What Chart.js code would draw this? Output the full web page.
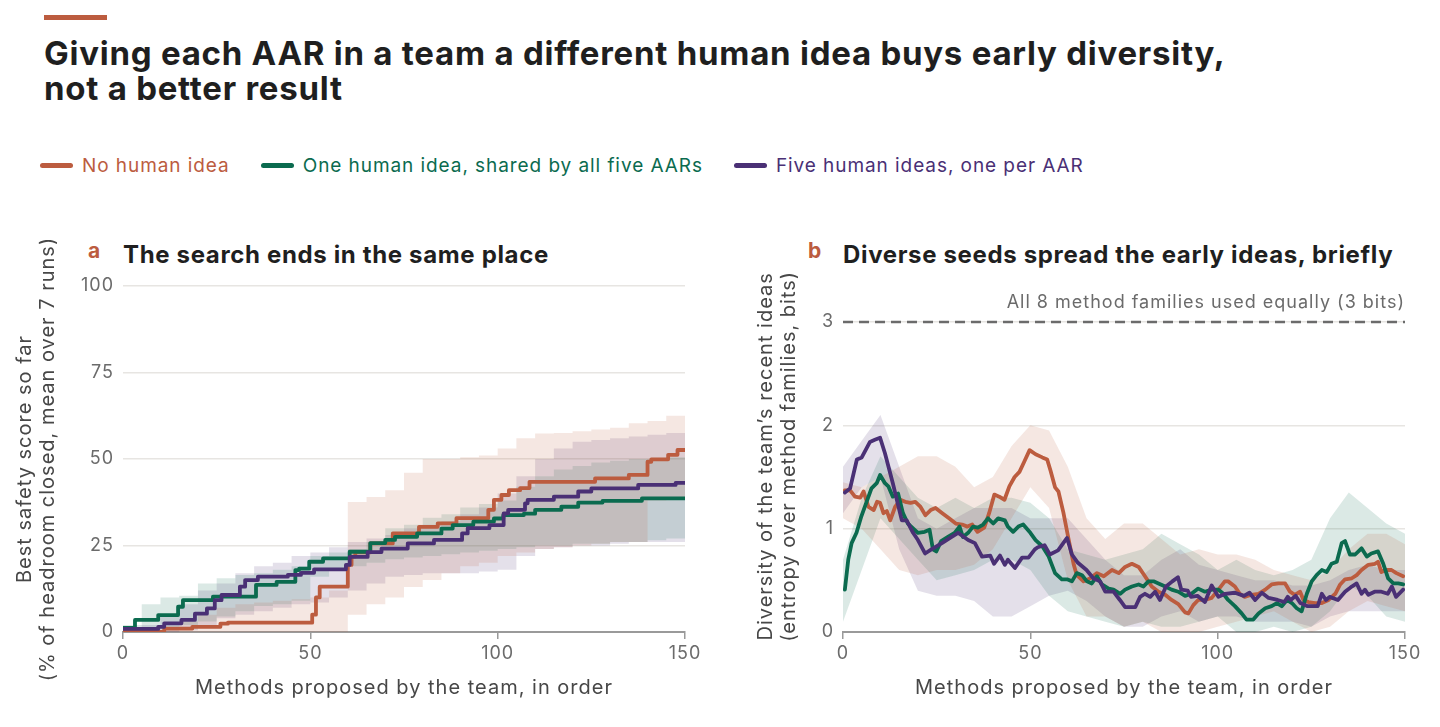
<!DOCTYPE html>
<html>
<head>
<meta charset="utf-8">
<script src="https://cdn.jsdelivr.net/npm/chart.js@4.4.1/dist/chart.umd.min.js"></script>
<style>
  html,body{margin:0;padding:0;background:#fff;}
  body{width:1440px;height:727px;position:relative;overflow:hidden;font-family:Inter,"Noto Sans",sans-serif;}
  .topbar{position:absolute;left:44px;top:15px;width:63px;height:5px;background:#bc5c3f;}
  h1{position:absolute;left:44px;top:36px;margin:0;font-size:33px;line-height:35px;font-weight:700;color:#1f1f1f;letter-spacing:0.75px;white-space:nowrap;}
  .legend{position:absolute;top:153px;left:40px;height:24px;display:flex;align-items:center;font-size:19px;letter-spacing:0.93px;}
  .item{display:flex;align-items:center;margin-right:31px;}
  .sw{width:33px;height:5px;border-radius:3px;margin-right:9px;}
  .ptitle{position:absolute;top:240px;font-size:24px;font-weight:700;color:#1f1f1f;line-height:30px;letter-spacing:0.65px;white-space:nowrap;}
  .plet{position:absolute;top:236px;font-size:21px;font-weight:700;color:#bc5c3f;line-height:30px;}
  canvas{position:absolute;top:240px;}
</style>
</head>
<body>
<div class="topbar"></div>
<h1>Giving each AAR in a team a different human idea buys early diversity,<br>not a better result</h1>
<div class="legend" id="legend"></div>
<div class="plet" style="left:88px">a</div>
<div class="ptitle" style="left:123px">The search ends in the same place</div>
<div class="plet" style="left:808px">b</div>
<div class="ptitle" style="left:843px">Diverse seeds spread the early ideas, briefly</div>
<canvas id="left" width="720" height="480" style="left:0px"></canvas>
<canvas id="right" width="720" height="480" style="left:720px"></canvas>
<script>
// ---------- series names & colours ----------
const seriesNames = ['No human idea', 'One human idea, shared by all five AARs', 'Five human ideas, one per AAR'];
const seriesColors = ['#bc5c3f', '#0b6b4f', '#4a3075'];
const bandColors = ['rgba(188,92,63,0.15)', 'rgba(11,107,79,0.15)', 'rgba(74,48,117,0.15)'];

// ---------- panel a: best safety score so far (step changes) ----------
const aNoX = [0, 11, 18.5, 26, 28, 50.5, 51.5, 52.5, 60, 61, 62, 66, 72, 79, 84, 89, 97.5, 99, 101, 103, 106, 108.5, 126, 135, 140, 141, 145.5, 148, 150];
const aNoY = [0, 1.0, 1.5, 2.4, 2.7, 5, 10, 13.1, 19.4, 21.8, 23, 25.6, 28.5, 30.4, 31.4, 32.9, 35.3, 38.2, 39.6, 41, 41.6, 43.4, 44.4, 45.4, 49.2, 49.9, 51.2, 52.6, 52.6];
const aOneX = [0, 3.2, 9.4, 14.7, 16, 24, 35.5, 41, 46, 47, 49.7, 53.4, 60.5, 66, 70, 72.6, 78.5, 85, 88, 93.5, 99, 101.5, 107, 110, 117, 121.5, 128, 138.5, 150];
const aOneY = [1.2, 3.5, 4.9, 7.3, 9.2, 10.2, 13.6, 14.5, 17.9, 18.3, 20.3, 21.3, 23.2, 25.7, 26.6, 27.5, 28.5, 29.9, 30.9, 31.9, 32.8, 33.8, 34.2, 35.3, 36.2, 37.4, 37.9, 38.6, 38.6];
const aFiveX = [0, 9.4, 11, 15.6, 19.2, 22.4, 24.5, 26.3, 31.2, 32.6, 36, 44, 47.5, 51, 59.5, 60.5, 65.3, 69, 76, 83, 90.5, 92, 97.8, 101.6, 102.8, 107.3, 108, 115, 121.5, 125, 137.5, 147.5, 150];
const aFiveY = [0.9, 1.5, 2.5, 3.5, 5.3, 6.8, 9.2, 10.7, 13.1, 15, 16, 16.5, 17.1, 18.1, 19.4, 21.7, 23.1, 24.1, 25.6, 26.6, 28.5, 30, 30.9, 34.3, 35.3, 37.2, 38.2, 39.1, 40.6, 41.5, 42.5, 43.1, 43.1];

const aBandX = [0, 5, 10, 15, 20, 25, 30, 35, 40, 45, 50, 55, 60, 65, 70, 75, 80, 85, 90, 95, 100, 105, 110, 115, 120, 125, 130, 135, 140, 145, 150];
const aNoHi = [0, 0.3, 1, 3, 5, 7, 8, 8.5, 9, 9.5, 10, 12, 37.6, 39, 41, 46, 50, 50, 50.5, 51, 53, 56, 57.4, 57.5, 58, 58.5, 59, 60.3, 61, 62.5, 63.4];
const aNoLo = [0, 0, 0, 0, 0, 0, 0, 0, 0, 0, 0, 0, 5, 8, 10, 13, 15, 17, 19, 20, 22, 23, 24, 24.5, 25, 25.5, 26, 26, 38, 38.5, 39];
const aOneHi = [2, 8, 10, 10.5, 14, 15.5, 16.5, 17, 18, 19, 22, 23, 24, 26, 30, 31, 33, 34, 36, 37, 38, 42, 45, 47, 48, 49, 49.5, 50, 50, 50.5, 51];
const aOneLo = [0, 0.5, 1, 2, 3, 4.5, 6, 7.5, 8, 9, 16, 18, 19, 20, 21, 21.5, 22, 22.5, 23, 23.5, 24, 24.5, 25, 25, 25.5, 25.5, 26, 26, 26.5, 27, 27];
const aFiveHi = [1, 2, 5, 8, 12, 14, 17, 19, 20, 22, 23, 24.5, 26, 27, 28, 30, 31, 32, 34, 36, 40, 45, 50, 53, 55, 55.5, 56, 56.5, 57, 57.5, 58];
const aFiveLo = [0, 0, 0, 0.5, 2, 4, 5, 6, 7, 8, 8.5, 10, 12, 14, 16, 16.5, 17, 17, 17, 17.5, 18, 22, 24, 24.5, 25, 25, 25.5, 26, 26, 26, 26];

// ---------- panel b: diversity of recent ideas (bits) ----------
const bNoX = [0.5,1.9,3.2,4.6,5.5,6.8,8.2,9.1,9.9,10.8,11.7,12.6,13.9,15.3,16.6,18,19.3,20.7,22,23.4,24.7,26.5,28.3,30.1,31.8,33.2,34.5,35.9,37.7,39,40.4,41.7,43.1,44.4,45.8,47.1,48.4,49.8,51.4,53.2,54.5,55.4,56.6,57.5,58.8,60.2,61.6,62.4,64.2,66,67.8,69.6,71.8,73.6,75.3,77.1,78.9,80.6,82.4,84.2,86,87.7,89.5,91.3,92.2,93.5,94.8,96.6,98.4,100.2,101.9,102.8,104.6,105.9,107.2,109,110.9,112.7,114.4,116.2,118,119.3,120.6,122,122.9,124.2,126,127.8,129.6,131.4,132.7,134,135.8,137.1,138.4,140.2,142,142.8,143.7,145,146.4,147.7,149.5];
const bNoY = [1.37,1.37,1.31,1.30,1.36,1.21,1.18,1.26,1.25,1.15,1.17,1.08,1.21,1.28,1.26,1.25,1.26,1.21,1.13,1.18,1.20,1.15,1.10,1.05,1.04,1.02,1.04,0.97,1.01,1.15,1.33,1.31,1.28,1.41,1.50,1.55,1.65,1.76,1.72,1.69,1.67,1.56,1.40,1.36,1.16,0.90,0.65,0.55,0.49,0.52,0.57,0.54,0.60,0.57,0.63,0.66,0.63,0.54,0.44,0.39,0.36,0.31,0.27,0.19,0.18,0.26,0.31,0.31,0.33,0.41,0.49,0.49,0.44,0.37,0.34,0.36,0.37,0.41,0.46,0.47,0.47,0.39,0.36,0.39,0.31,0.29,0.28,0.28,0.31,0.37,0.46,0.51,0.52,0.55,0.60,0.65,0.66,0.68,0.58,0.60,0.60,0.57,0.54];
const bOneX = [0.5,1.4,2.3,3.6,4.9,6.2,7.6,9,9.9,11.2,12.1,13.3,14.7,16,17.3,18.2,20,21.8,23.1,24,24.9,26.2,28,29.8,31.1,32,33.4,34.7,36,37.4,38.7,40.1,41.4,43.2,44,45.4,46.8,48.1,50,51.4,53.2,54.9,56.6,58.4,59.8,61.1,62.4,63.8,65.1,66.4,67.8,69.1,70.9,72.2,74,75.3,77.1,78.9,80.2,81.5,82.9,84.2,86,87.7,89.5,91.3,93,94.8,96.6,98.4,100.2,101.5,102.8,104.6,106.4,107.7,109.5,110.9,112.7,114.4,115.8,117.1,118.5,119.8,121.1,122.4,123.8,125.1,126.4,127.8,129.1,130.4,131.8,133.1,134,135.3,136.7,138.4,139.8,141,142.8,144.2,145.5,146.9,148.2,149.5];
const bOneY = [0.41,0.70,0.86,0.96,1.12,1.25,1.39,1.44,1.52,1.44,1.41,1.31,1.34,1.15,1.05,1.02,0.96,0.97,0.99,0.80,0.78,0.88,0.92,0.96,1.02,0.92,0.96,1.02,1.01,1.04,1.10,1.05,1.10,1.08,1.02,0.97,1.02,1.04,0.96,0.89,0.83,0.73,0.57,0.51,0.51,0.49,0.57,0.55,0.49,0.47,0.54,0.46,0.42,0.41,0.37,0.41,0.44,0.46,0.44,0.49,0.49,0.47,0.44,0.41,0.39,0.35,0.37,0.42,0.39,0.41,0.41,0.37,0.31,0.25,0.18,0.12,0.12,0.18,0.23,0.25,0.28,0.25,0.31,0.28,0.23,0.20,0.37,0.49,0.55,0.60,0.58,0.66,0.68,0.86,0.88,0.75,0.75,0.81,0.73,0.76,0.78,0.66,0.52,0.47,0.47,0.46];
const bFiveX = [0.5,1.9,3.7,5,7.2,8.5,9.9,11.2,13.3,15.7,17,18.7,20,21.9,23.6,26.4,29,30.7,33.4,35.2,37.1,39.3,40.3,41.9,43.2,44,45.9,47.8,49.5,51.2,52,53.8,55.2,57.4,59.8,61.1,62.7,65,66.8,68.6,70,72.2,73.9,75.3,78,79.3,80.6,82,83.3,84.6,86.2,87.9,89.4,90.3,92,92.9,94.6,96.6,98.4,100.2,102,104.6,107,108.5,110,111.8,113.6,116,117.8,118.7,119.5,120.8,122.1,124,126.7,127.8,128.9,129.9,132.1,134,135.8,137.1,138.4,139.3,140.2,141.9,143.7,145.4,146.5,147.6,149.5];
const bFiveY = [1.35,1.39,1.67,1.69,1.84,1.86,1.88,1.73,1.44,1.08,1.08,0.96,0.89,0.76,0.80,0.86,0.92,0.96,0.89,0.86,0.73,0.74,0.66,0.74,0.65,0.70,0.62,0.72,0.72,0.80,0.82,0.84,0.75,0.79,0.91,0.75,0.67,0.60,0.52,0.49,0.39,0.39,0.31,0.24,0.24,0.34,0.37,0.34,0.39,0.31,0.44,0.49,0.53,0.41,0.40,0.34,0.35,0.29,0.45,0.34,0.37,0.38,0.35,0.38,0.31,0.38,0.33,0.31,0.29,0.34,0.31,0.35,0.28,0.25,0.25,0.37,0.31,0.34,0.31,0.39,0.44,0.47,0.37,0.41,0.36,0.39,0.39,0.37,0.44,0.34,0.41];

const bBandX = [0, 5, 10, 15, 20, 25, 30, 35, 40, 45, 50, 55, 60, 65, 70, 75, 80, 85, 90, 95, 100, 105, 110, 115, 120, 125, 130, 135, 140, 145, 150];
const bNoHi = [1.45,1.4,1.5,1.6,1.7,1.7,1.6,1.4,1.5,1.8,2.0,1.95,1.6,1.1,0.9,1.05,1.05,0.9,0.75,0.8,0.75,0.75,0.7,0.6,0.55,0.5,0.6,0.8,0.95,0.95,0.85];
const bNoLo = [1.1,1.0,0.8,0.6,0.55,0.6,0.6,0.65,0.8,1.1,1.4,1.2,0.5,0.15,0.15,0.05,0.1,0.0,0.0,0.0,0.05,0.1,0.15,0.2,0.1,0.0,0.05,0.2,0.3,0.25,0.2];
const bOneHi = [0.7,1.3,1.7,1.5,1.3,1.2,1.3,1.2,1.3,1.3,1.25,1.1,0.8,0.75,0.7,0.75,0.8,0.95,0.85,0.75,0.6,0.7,0.6,0.55,0.6,0.7,1.1,1.35,1.2,1.05,0.95];
const bOneLo = [0.1,0.6,1.1,0.9,0.7,0.5,0.55,0.6,0.7,0.7,0.6,0.35,0.2,0.15,0.1,0.05,0.1,0.05,0.05,0.1,0.15,0.0,0.0,0.05,0.0,0.05,0.2,0.45,0.35,0.15,0.1];
const bFiveHi = [1.6,1.85,2.1,1.6,1.1,1.0,1.1,1.2,1.2,1.2,1.1,1.1,1.1,0.9,0.7,0.55,0.55,0.7,0.8,0.65,0.6,0.55,0.5,0.5,0.45,0.45,0.5,0.6,0.65,0.6,0.6];
const bFiveLo = [1.15,1.4,1.5,0.8,0.4,0.35,0.35,0.3,0.15,0.15,0.25,0.35,0.4,0.3,0.15,0.05,0.05,0.15,0.2,0.1,0.15,0.15,0.1,0.1,0.1,0.05,0.15,0.2,0.2,0.2,0.2];

const refLineValue = 3;
const refLineLabel = 'All 8 method families used equally (3 bits)';

const aTicksX = [0, 50, 100, 150];
const aTicksY = [0, 25, 50, 75, 100];
const bTicksY = [0, 1, 2, 3];

const aYTitle = ['Best safety score so far', '(% of headroom closed, mean over 7 runs)'];
const bYTitle = ['Diversity of the team\u2019s recent ideas', '(entropy over method families, bits)'];
const xTitle = 'Methods proposed by the team, in order';

// ---------- legend ----------
const leg = document.getElementById('legend');
seriesNames.forEach((n, i) => {
  const it = document.createElement('div'); it.className = 'item';
  const sw = document.createElement('div'); sw.className = 'sw'; sw.style.background = seriesColors[i];
  const tx = document.createElement('span'); tx.textContent = n; tx.style.color = seriesColors[i];
  it.appendChild(sw); it.appendChild(tx); leg.appendChild(it);
});

// ---------- helpers ----------
const FONT = 'Inter, "Noto Sans", sans-serif';
const pts = (xs, ys) => xs.map((x, i) => ({x: x, y: ys[i]}));
function lineDs(xs, ys, i, stepped) {
  return {data: pts(xs, ys), borderColor: seriesColors[i], borderWidth: 3.8, pointRadius: 0,
          stepped: stepped, tension: 0, fill: false, borderJoinStyle: 'round', borderCapStyle: 'round'};
}
function bandDs(xs, hi, lo, i, stepped) {
  return [
    {data: pts(xs, hi), borderWidth: 0, borderColor: 'rgba(0,0,0,0)', pointRadius: 0, stepped: stepped,
     backgroundColor: bandColors[i], fill: '+1', tension: 0},
    {data: pts(xs, lo), borderWidth: 0, borderColor: 'rgba(0,0,0,0)', pointRadius: 0, stepped: stepped,
     fill: false, tension: 0}
  ];
}
function scalesFor(yMin, yMax, yTicks, yTitle, yTitlePad) {
  return {
    x: {
      type: 'linear', min: 0, max: 150,
      afterBuildTicks: s => { s.ticks = aTicksX.map(v => ({value: v})); },
      afterFit: s => { s.height = 88; },
      grid: {drawOnChartArea: false, drawTicks: true, tickLength: 7, color: '#9a9a9a', lineWidth: 1.5},
      border: {display: true, color: '#9a9a9a', width: 2},
      ticks: {color: '#6b6b6b', font: {family: FONT, size: 18}, padding: 4, maxRotation: 0},
      title: {display: true, text: xTitle, color: '#474747', font: {family: FONT, size: 20, lineHeight: 1.2}, padding: {top: 0, bottom: 20}}
    },
    y: {
      type: 'linear', min: yMin, max: yMax,
      afterBuildTicks: s => { s.ticks = yTicks.map(v => ({value: v})); },
      afterFit: s => { s.width = 123; },
      grid: {drawTicks: false, color: '#e7e5e2', lineWidth: 1.5},
      border: {display: false},
      ticks: {color: '#6b6b6b', font: {family: FONT, size: 18}, padding: 9},
      title: {display: true, text: yTitle, color: '#474747', font: {family: FONT, size: 20, lineHeight: 1.18}, padding: {top: yTitlePad, bottom: 0}}
    }
  };
}
// wider tracking, matching the reference typeface
const trackingPlugin = {id: 'tracking', beforeDraw(chart) { chart.ctx.letterSpacing = '1px'; }};

// ---------- panel a ----------
new Chart(document.getElementById('left'), {
  type: 'line',
  data: {datasets: [
    lineDs(aFiveX, aFiveY, 2, true),
    lineDs(aOneX, aOneY, 1, true),
    lineDs(aNoX, aNoY, 0, true),
    ...bandDs(aBandX, aNoHi, aNoLo, 0, true),
    ...bandDs(aBandX, aOneHi, aOneLo, 1, true),
    ...bandDs(aBandX, aFiveHi, aFiveLo, 2, true)
  ]},
  options: {
    responsive: false, animation: false, devicePixelRatio: 1,
    layout: {padding: {top: 46, right: 35, left: 0, bottom: 0}},
    plugins: {legend: {display: false}, tooltip: {enabled: false}},
    scales: scalesFor(0, 100, aTicksY, aYTitle, 13)
  },
  plugins: [trackingPlugin]
});

// ---------- panel b ----------
const refLabelPlugin = {
  id: 'refLabel',
  afterDatasetsDraw(chart) {
    const {ctx, scales} = chart;
    ctx.save();
    ctx.font = '18px ' + FONT;
    ctx.fillStyle = '#6b6b6b';
    ctx.textAlign = 'right';
    ctx.textBaseline = 'alphabetic';
    ctx.fillText(refLineLabel, scales.x.getPixelForValue(150), scales.y.getPixelForValue(refLineValue) - 14);
    ctx.restore();
  }
};
new Chart(document.getElementById('right'), {
  type: 'line',
  data: {datasets: [
    lineDs(bFiveX, bFiveY, 2, false),
    lineDs(bOneX, bOneY, 1, false),
    lineDs(bNoX, bNoY, 0, false),
    {data: [{x: 0, y: refLineValue}, {x: 150, y: refLineValue}], borderColor: '#6b6b6b', borderWidth: 2.5,
     borderDash: [10, 6], pointRadius: 0, fill: false},
    ...bandDs(bBandX, bNoHi, bNoLo, 0, false),
    ...bandDs(bBandX, bOneHi, bOneLo, 1, false),
    ...bandDs(bBandX, bFiveHi, bFiveLo, 2, false)
  ]},
  options: {
    responsive: false, animation: false, devicePixelRatio: 1,
    layout: {padding: {top: 40.7, right: 35, left: 0, bottom: 0}},
    plugins: {legend: {display: false}, tooltip: {enabled: false}},
    scales: scalesFor(0, 3.4, bTicksY, bYTitle, 34)
  },
  plugins: [trackingPlugin, refLabelPlugin]
});
</script>
</body>
</html>
